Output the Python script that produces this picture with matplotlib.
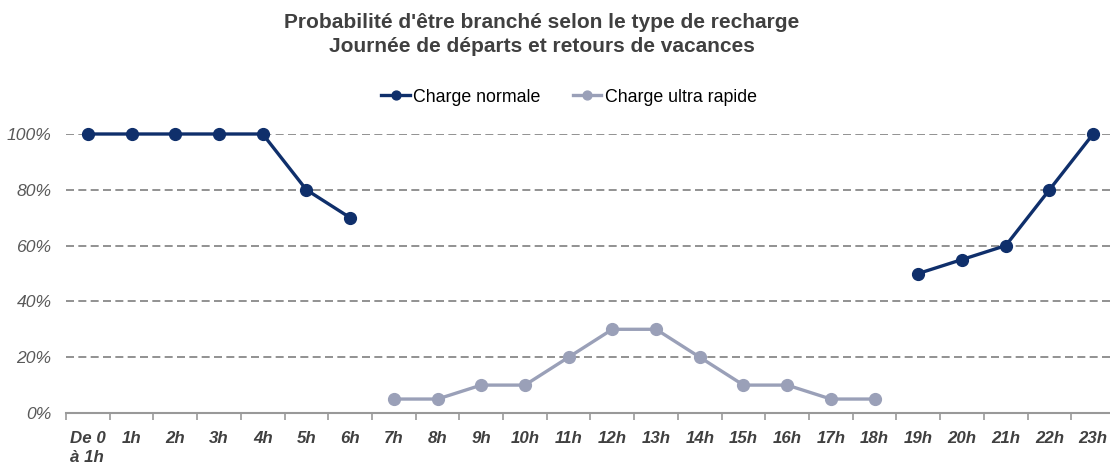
import numpy as np
import matplotlib
matplotlib.use("Agg")
import matplotlib.pyplot as plt
from matplotlib.ticker import FixedLocator

hours = ["De 0\nà 1h", "1h", "2h", "3h", "4h", "5h", "6h", "7h", "8h", "9h", "10h", "11h",
         "12h", "13h", "14h", "15h", "16h", "17h", "18h", "19h", "20h", "21h", "22h", "23h"]
nan = np.nan
charge_normale = [100, 100, 100, 100, 100, 80, 70, nan, nan, nan, nan, nan,
                  nan, nan, nan, nan, nan, nan, nan, 50, 55, 60, 80, 100]
charge_ultra = [nan, nan, nan, nan, nan, nan, nan, 5, 5, 10, 10, 20,
                30, 30, 20, 10, 10, 5, 5, nan, nan, nan, nan, nan]
yticks = [0, 20, 40, 60, 80, 100]

plt.rcParams['font.family'] = ['Liberation Sans', 'DejaVu Sans']

fig = plt.figure(figsize=(11.1, 4.63), dpi=100)
ax = fig.add_axes([66/1110, 1-413/463, (1115-66)/1110, (413-134)/463])

x = np.arange(len(hours))
c_norm = '#0f2f6b'
c_ultra = '#9aa0b8'
ax.plot(x, np.array(charge_normale, dtype=float) / 100, color=c_norm, lw=2.4, marker='o',
        ms=8.5, clip_on=False, zorder=3, label='Charge normale')
ax.plot(x, np.array(charge_ultra, dtype=float) / 100, color=c_ultra, lw=2.4, marker='o',
        ms=8.5, clip_on=False, zorder=3, label='Charge ultra rapide')

ax.set_xlim(-0.5, len(hours) - 0.5)
ax.set_ylim(0, 1.0)
ax.set_yticks([v / 100 for v in yticks])
ax.set_yticklabels([f"{v}%" for v in yticks], fontsize=12.6, style='italic', color='#595959')
ax.tick_params(axis='y', length=0, pad=10.5)
ax.yaxis.grid(True, color='#7f7f7f', linestyle=(0, (4.8, 2.6)), lw=1.2)
ax.set_axisbelow(True)

ax.set_xticks(x)
labels = ax.set_xticklabels(hours, fontsize=12.2, style='italic', fontweight='bold',
                            color='#404040', linespacing=1.3)
labels[0].set_multialignment('left')
ax.tick_params(axis='x', length=0, pad=13)
ax.xaxis.set_minor_locator(FixedLocator(np.arange(-0.5, len(hours), 1.0)))
ax.tick_params(axis='x', which='minor', length=5, direction='out', color='#999999', width=1.2)

for s in ['top', 'right', 'left']:
    ax.spines[s].set_visible(False)
ax.spines['bottom'].set_color('#999999')
ax.spines['bottom'].set_linewidth(1.5)

fig.text(542/1110, 1 - 22/463, "Probabilité d'être branché selon le type de recharge",
         ha='center', va='center', fontsize=15, fontweight='bold', color='#404040')
fig.text(542/1110, 1 - 47/463, "Journée de départs et retours de vacances",
         ha='center', va='center', fontsize=15, fontweight='bold', color='#404040')

fig.legend(loc='center', bbox_to_anchor=(569/1110, 1 - 97/463), ncol=2, frameon=False,
           fontsize=12.8, handlelength=1.6, handletextpad=0.2, columnspacing=1.8,
           markerscale=0.75)

fig.savefig('out.png', dpi=100)
